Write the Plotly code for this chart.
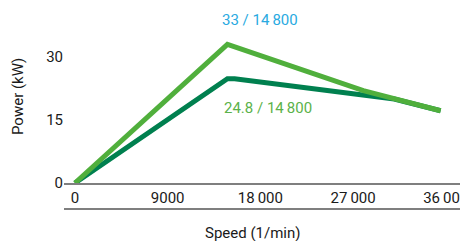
import plotly.graph_objects as go

# Data
speed_light = [0, 14800, 28000, 35500]
power_light = [0, 33, 22, 17.2]
speed_dark = [0, 14800, 15500, 31000, 35500]
power_dark = [0, 24.8, 24.8, 20, 17.2]

x_tickvals = [0, 9000, 18000, 27000, 36000]
x_ticktext = ["0", "9000", "18\u2009000", "27\u2009000", "36\u2009000"]
y_tickvals = [0, 15, 30]
y_ticktext = ["0", "15", "30"]

label_peak_light = "33 / 14\u2009800"
label_peak_dark = "24.8 / 14\u2009800"

FONT = "Roboto, 'DejaVu Sans', sans-serif"
LIGHT = "#50AF3C"
DARK = "#00804F"
CYAN = "#29AAE1"
LABEL_GREEN = "#5BB24A"
GRAY = "#7f7f7f"

fig = go.Figure()
fig.add_trace(go.Scatter(x=speed_dark, y=power_dark, mode="lines",
                         line=dict(color=DARK, width=5), cliponaxis=False,
                         hoverinfo="skip"))
fig.add_trace(go.Scatter(x=speed_light, y=power_light, mode="lines",
                         line=dict(color=LIGHT, width=5), cliponaxis=False,
                         hoverinfo="skip"))

# plot area: x px 64..460, y px 20..183
x_min, x_max = -1065, 37380
y_max = 38.8

fig.update_layout(
    width=460, height=241,
    margin=dict(l=64, r=0, t=20, b=58, autoexpand=False),
    paper_bgcolor="white", plot_bgcolor="white",
    showlegend=False,
    font=dict(family=FONT, size=15, color="#1a1a1a"),
    xaxis=dict(range=[x_min, x_max], tickvals=x_tickvals, ticktext=x_ticktext,
               showgrid=False, zeroline=False, showline=True, linecolor=GRAY,
               linewidth=2, ticks="", automargin=False, fixedrange=True,
               ticklabeloverflow="allow"),
    yaxis=dict(range=[0, y_max], tickvals=y_tickvals, ticktext=y_ticktext,
               showgrid=False, zeroline=False, showline=False, ticks="",
               automargin=False, fixedrange=True),
    shapes=[dict(type="line", xref="paper", yref="paper", x0=0, x1=1,
                 y0=-0.16, y1=-0.16, line=dict(color=GRAY, width=2))],
    annotations=[
        dict(text=label_peak_light, x=18000, y=38.8, xref="x", yref="y",
             showarrow=False, font=dict(color=CYAN, size=15),
             xanchor="center", yanchor="middle"),
        dict(text=label_peak_dark, x=18700, y=17.8, xref="x", yref="y",
             showarrow=False, font=dict(color=LABEL_GREEN, size=15),
             xanchor="center", yanchor="middle"),
        dict(text="Power (kW)", x=(18 - 64) / 396, y=(183 - 97) / 163,
             xref="paper", yref="paper",
             showarrow=False, textangle=-90, font=dict(size=15),
             xanchor="center", yanchor="middle"),
        dict(text="Speed (1/min)", x=0.475, y=-0.307, xref="paper", yref="paper",
             showarrow=False, font=dict(size=15),
             xanchor="center", yanchor="middle"),
    ],
)

fig.write_html("out.html", config={"displayModeBar": False, "staticPlot": True},
               post_script="document.body.style.margin='0';document.body.style.padding='0';")
